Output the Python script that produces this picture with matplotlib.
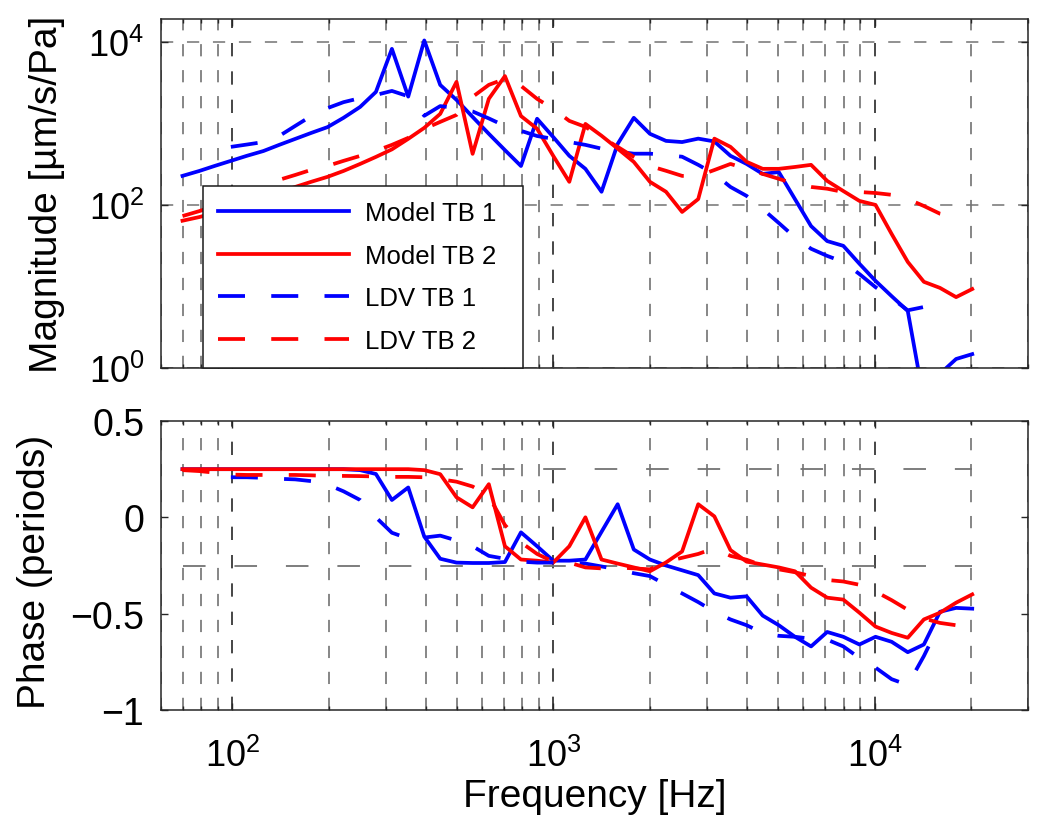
import numpy as np
import matplotlib
matplotlib.use('Agg')
import matplotlib.pyplot as plt
from matplotlib.ticker import FixedLocator, LogLocator, NullLocator, NullFormatter

plt.rcParams['font.family'] = ['Liberation Sans', 'DejaVu Sans']
plt.rcParams['mathtext.fontset'] = 'custom'
plt.rcParams['mathtext.rm'] = 'Liberation Sans'
plt.rcParams['mathtext.default'] = 'regular'

# frequencies (Hz), 1/6 octave points
freq = [70, 79, 88, 99, 111, 125, 140, 157, 176, 198, 222, 250, 280, 314, 353,
        396, 444, 499, 560, 629, 706, 792, 889, 998, 1120, 1257, 1411, 1584,
        1778, 1996, 2240, 2514, 2822, 3168, 3556, 3991, 4480, 5028, 5644, 6336,
        7112, 7983, 8960, 10057, 11289, 12671, 14223, 15964, 17919, 20114]
freq_ldv1 = freq[3:48]
freq_ldv2 = freq[:49]

# magnitude [um/s/Pa]
mag_model1 = [227, 261, 300, 347, 400, 458, 545, 645, 763, 900, 1170, 1590, 2430,
              8200, 2130, 10400, 2960, 1940, 1200, 745, 470, 300, 1140, 680, 400,
              277, 145, 560, 1170, 745, 610, 590, 650, 600, 400, 318, 240, 253,
              118, 55, 36, 31.5, 19, 11.7, 7.6, 5.0, 0.4, 0.85, 1.29, 1.48]
mag_model2 = [64, 71, 80, 92, 106, 122, 144, 166, 192, 221, 261, 318, 388, 480,
              646, 881, 1308, 3230, 423, 2000, 3800, 1230, 860, 400, 192, 985,
              705, 490, 337, 192, 145, 82, 118, 650, 515, 338, 277, 277, 292,
              310, 197, 148, 112, 100, 44, 20, 11.4, 9.6, 7.4, 9.3]
mag_ldv1 = [515, 550, 590, 700, 930, 1230, 1540, 1820, 2040, 2230, 2500, 2150,
            1240, 1630, 1540, 1400, 1150, 930, 810, 700, 645, 590, 545, 490,
            450, 425, 425, 410, 390, 310, 240, 166, 129, 89, 60, 40, 29, 23.7,
            20, 14.2, 9.8, 7.2, 5.1, 5.6, 6.6]
mag_ldv2 = [73, 84, 97, 119, 140, 171, 203, 233, 269, 301, 347, 399, 460, 545,
            664, 857, 1043, 1270, 2115, 2967, 3515, 2884, 1999, 1507, 1073, 906,
            680, 515, 388, 300, 262, 227, 227, 268, 318, 277, 240, 209, 181,
            166, 158, 144, 144, 140, 133, 118, 97, 78, 71]

# phase (periods)
ph_model1 = [0.25, 0.25, 0.25, 0.25, 0.25, 0.25, 0.25, 0.25, 0.25, 0.25, 0.25,
             0.245, 0.225, 0.09, 0.155, -0.10, -0.215, -0.235, -0.237, -0.237,
             -0.232, -0.078, -0.15, -0.225, -0.225, -0.219, -0.075, 0.068,
             -0.167, -0.219, -0.25, -0.275, -0.30, -0.395, -0.417, -0.41, -0.51,
             -0.56, -0.62, -0.67, -0.595, -0.62, -0.66, -0.62, -0.646, -0.70,
             -0.66, -0.49, -0.47, -0.474]
ph_model2 = [0.25, 0.25, 0.25, 0.25, 0.25, 0.25, 0.25, 0.25, 0.25, 0.25, 0.25,
             0.25, 0.25, 0.25, 0.25, 0.245, 0.224, 0.104, 0.052, 0.172, -0.15,
             -0.219, -0.225, -0.235, -0.15, 0.0, -0.219, -0.24, -0.26, -0.28,
             -0.234, -0.177, 0.068, 0.005, -0.17, -0.23, -0.245, -0.26, -0.28,
             -0.365, -0.417, -0.427, -0.495, -0.567, -0.60, -0.625, -0.53,
             -0.495, -0.443, -0.40]
ph_ldv1 = [0.208, 0.208, 0.205, 0.20, 0.197, 0.188, 0.17, 0.135, 0.09, 0.0,
           -0.08, -0.11, -0.105, -0.095, -0.12, -0.15, -0.2, -0.215, -0.23,
           -0.235, -0.235, -0.235, -0.24, -0.255, -0.27, -0.29, -0.305, -0.35,
           -0.395, -0.44, -0.49, -0.53, -0.56, -0.60, -0.615, -0.62, -0.63,
           -0.635, -0.67, -0.73, -0.78, -0.84, -0.87, -0.72, -0.55]
ph_ldv2 = [0.245, 0.24, 0.232, 0.222, 0.22, 0.22, 0.22, 0.22, 0.218, 0.215,
           0.215, 0.214, 0.212, 0.21, 0.21, 0.208, 0.198, 0.185, 0.16, 0.11,
           -0.04, -0.13, -0.19, -0.23, -0.235, -0.26, -0.265, -0.26, -0.265,
           -0.27, -0.23, -0.21, -0.19, -0.16, -0.2, -0.22, -0.25, -0.27, -0.285,
           -0.305, -0.325, -0.333, -0.35, -0.385, -0.43, -0.48, -0.525, -0.548,
           -0.56]

labels = ['Model TB 1', 'Model TB 2', 'LDV TB 1', 'LDV TB 2']
quarter = [0.25, -0.25]

lw = 2.7
dash = (0, (7.2, 7.0))
grid_ls = (0, (8, 9))

fig = plt.figure(figsize=(10.5, 8.29), dpi=100)
W, H = 1050, 829
ax1 = fig.add_axes([161 / W, 1 - 369 / H, 867 / W, 349 / H])
ax2 = fig.add_axes([161 / W, 1 - 711 / H, 867 / W, 289 / H])

# magnitude
ax1.plot(freq, mag_model1, color='b', lw=lw, label=labels[0])
ax1.plot(freq, mag_model2, color='r', lw=lw, label=labels[1])
ax1.plot(freq_ldv1, mag_ldv1, color='b', lw=lw, ls=dash, label=labels[2])
ax1.plot(freq_ldv2, mag_ldv2, color='r', lw=lw, ls=dash, label=labels[3])

# phase
for q in quarter:
    ax2.plot([freq[0], freq[-1]], [q, q], color='0.45', lw=1.3, ls=(0, (12.5, 16)))
ax2.plot(freq, ph_model1, color='b', lw=lw)
ax2.plot(freq, ph_model2, color='r', lw=lw)
ax2.plot(freq_ldv1, ph_ldv1, color='b', lw=lw, ls=dash)
ax2.plot(freq_ldv2, ph_ldv2, color='r', lw=lw, ls=dash)

for ax in (ax1, ax2):
    ax.set_xscale('log')
    ax.set_xlim(60, 3e4)
    ax.xaxis.set_major_locator(FixedLocator([100, 1000, 10000]))
    ax.xaxis.set_minor_locator(LogLocator(base=10, subs=np.arange(2, 10), numticks=30))
    ax.xaxis.set_minor_formatter(NullFormatter())
    ax.grid(True, which='major', axis='x', color='0.15', lw=1.2, ls=grid_ls)
    ax.grid(True, which='minor', axis='x', color='0.4', lw=1.1, ls=grid_ls)
    ax.set_axisbelow(True)
    ax.tick_params(which='both', direction='in', top=True, right=True,
                   labelsize=26, width=1.0, color='0.15')
    ax.tick_params(which='major', length=5, pad=12)
    ax.tick_params(which='minor', length=3)
    for s in ax.spines.values():
        s.set_linewidth(1.1)
        s.set_color('0.15')

ax1.set_yscale('log')
ax1.set_ylim(1, 10 ** 4.28)
ax1.yaxis.set_major_locator(FixedLocator([1, 100, 10000]))
ax1.yaxis.set_minor_locator(NullLocator())
ax1.set_yticklabels([r'$10^{0}$', r'$10^{2}$', r'$10^{4}$'])
ax1.grid(True, which='major', axis='y', color='0.45', lw=1.1, ls=grid_ls)
ax1.tick_params(labelbottom=False)
ax1.set_ylabel('Magnitude [µm/s/Pa]', fontsize=28)
ax1.yaxis.set_label_coords(-0.111, 0.5)

ax2.set_ylim(-1, 0.5)
ax2.set_yticks([-1, -0.5, 0, 0.5])
ax2.set_yticklabels(['\u22121', '\u22120.5', '0', '0.5'], fontsize=27)
ax2.set_xticklabels([r'$10^{2}$', r'$10^{3}$', r'$10^{4}$'])
ax2.tick_params(axis='x', which='major', pad=20)
ax2.set_ylabel('Phase (periods)', fontsize=28)
ax2.yaxis.set_label_coords(-0.125, 0.48)
ax2.set_xlabel('Frequency [Hz]', fontsize=28)
ax2.xaxis.set_label_coords(0.5, -0.235)

leg = ax1.legend(loc='lower left', bbox_to_anchor=(0.0484, 0.0, 0.369, 0.52),
                 mode='expand', borderaxespad=0,
                 fontsize=18.5, handlelength=5.1, handletextpad=0.6,
                 labelspacing=0.72, borderpad=0.6, fancybox=False,
                 framealpha=1, edgecolor='0.1')
leg.get_frame().set_linewidth(1.1)

fig.savefig('out.png', dpi=100)
